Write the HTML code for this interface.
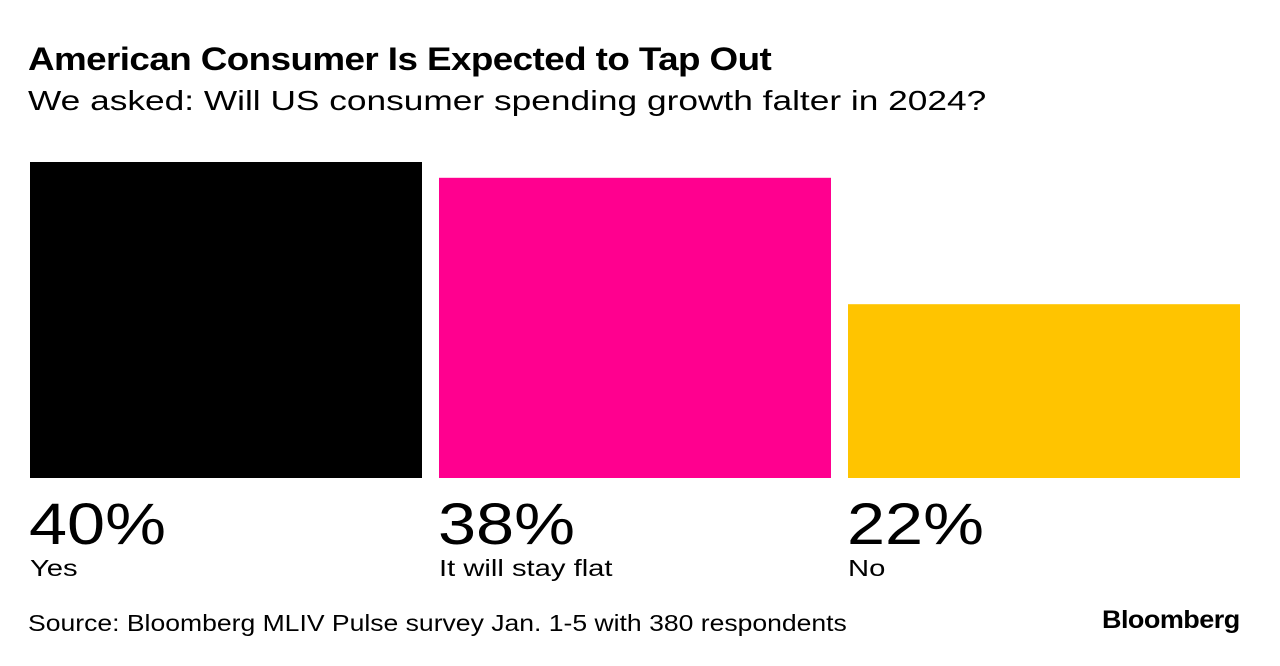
<!DOCTYPE html>
<html><head><meta charset="utf-8">
<style>
body{margin:0;width:1280px;height:666px;background:#fff;font-family:"Liberation Sans",sans-serif;overflow:hidden;position:relative}
.t{position:absolute;white-space:nowrap;color:#000;transform-origin:0 0}
</style></head><body>
<div class="t" style="left:28px;top:41px;font-size:32px;font-weight:bold;letter-spacing:-0.5px;transform:scaleX(1.15)">American Consumer Is Expected to Tap Out</div>
<div class="t" style="left:28px;top:85px;font-size:28px;transform:scaleX(1.26)">We asked: Will US consumer spending growth falter in 2024?</div>
<svg id="chart" width="1280" height="600" style="position:absolute;left:0;top:0"></svg>
<div class="t" style="left:28px;top:610px;font-size:23px;transform:scaleX(1.154)">Source: Bloomberg MLIV Pulse survey Jan. 1-5 with 380 respondents</div>
<div class="t" style="left:1102px;top:606px;font-size:25px;font-weight:bold;letter-spacing:-0.5px;transform:scaleX(1.08)">Bloomberg</div>
<script>
const categories=["Yes","It will stay flat","No"];
const values=[40,38,22];
const valueLabels=["40%","38%","22%"];
const colors=["#000000","#ff008f","#ffc400"];
const svg=document.getElementById('chart');
const NS="http://www.w3.org/2000/svg";
const baseline=478, scale=316/40, x0=30, bw=392, gap=17;
const y=v=>baseline-v*scale;
const xb=i=>x0+i*(bw+gap);
values.forEach((v,i)=>{
  const r=document.createElementNS(NS,'rect');
  r.setAttribute('x',xb(i));r.setAttribute('y',y(v));
  r.setAttribute('width',bw);r.setAttribute('height',baseline-y(v));
  r.setAttribute('fill',colors[i]);
  
  
  svg.appendChild(r);
  const t=document.createElementNS(NS,'text');
  t.setAttribute('font-size','58');t.setAttribute('font-family','Liberation Sans, sans-serif');
  t.setAttribute('transform','translate('+(xb(i)-1)+',544) scale(1.18,1)');
  t.textContent=valueLabels[i];
  
  
  svg.appendChild(t);
  const c=document.createElementNS(NS,'text');
  c.setAttribute('font-size','23');c.setAttribute('font-family','Liberation Sans, sans-serif');
  c.setAttribute('transform','translate('+xb(i)+',576) scale(1.27,1)');
  c.textContent=categories[i];
  
  
  svg.appendChild(c);
});
</script>
</body></html>
